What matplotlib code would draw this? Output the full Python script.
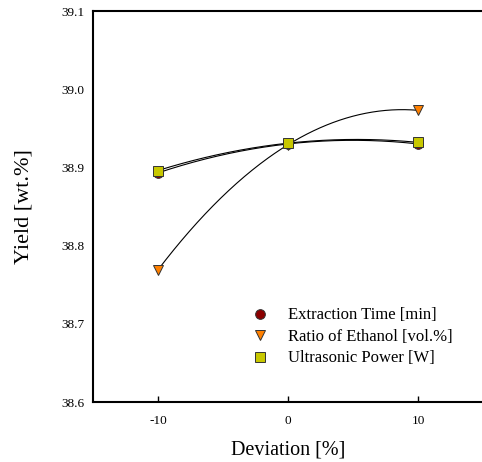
import numpy as np
from matplotlib import pyplot as plt

plt.rcParams['font.family'] = ['Liberation Serif', 'DejaVu Serif']
plt.rcParams['axes.unicode_minus'] = False

deviation = [-10, 0, 10]
extraction_time = [38.893, 38.930, 38.930]
ethanol_ratio = [38.769, 38.929, 38.973]
ultrasonic_power = [38.896, 38.931, 38.932]

labels = ['Extraction Time [min]', 'Ratio of Ethanol [vol.%]', 'Ultrasonic Power [W]']
markers = ['o', 'v', 's']
colors = ['#8B0000', '#FF8000', '#C8C800']

def smooth(x, y):
    # quadratic through the three points
    coef = np.polyfit(x, y, 2)
    xx = np.linspace(min(x), max(x), 200)
    return xx, np.polyval(coef, xx)

fig = plt.figure(figsize=(4.82, 4.62), dpi=100)
ax = fig.add_axes([93/482, 60/462, 390/482, 391/462])

series = [extraction_time, ethanol_ratio, ultrasonic_power]
for y in series:
    xx, yy = smooth(deviation, y)
    ax.plot(xx, yy, color='black', lw=0.8, zorder=2)
for y, m, c, lab in zip(series, markers, colors, labels):
    ax.plot(deviation, y, linestyle='none', marker=m, markersize=7, markerfacecolor=c,
            markeredgecolor='#333333', markeredgewidth=0.7, label=lab, zorder=3)

ax.set_xlim(-15, 15)
ax.set_ylim(38.6, 39.1)
ax.set_xticks(deviation)
ax.set_yticks(np.arange(38.6, 39.11, 0.1))
ax.set_yticklabels(['%.1f' % v for v in np.arange(38.6, 39.11, 0.1)])
ax.tick_params(axis='x', direction='in', length=4, width=1, labelsize=9.5, pad=9)
ax.tick_params(axis='y', direction='in', length=0, labelsize=9.5, pad=6)

for s in ['left', 'bottom', 'top']:
    ax.spines[s].set_linewidth(1.5)
ax.spines['right'].set_visible(False)

ax.set_xlabel('Deviation [%]', fontsize=14.5, labelpad=10)
ax.set_ylabel('Yield [wt.%]', fontsize=16, labelpad=20)

ax.legend(loc='upper left', bbox_to_anchor=(0.385, 0.259), frameon=False, fontsize=12,
          handletextpad=1.1, labelspacing=0.33, handlelength=1.2, borderaxespad=0)

fig.savefig('out.png', dpi=100)
